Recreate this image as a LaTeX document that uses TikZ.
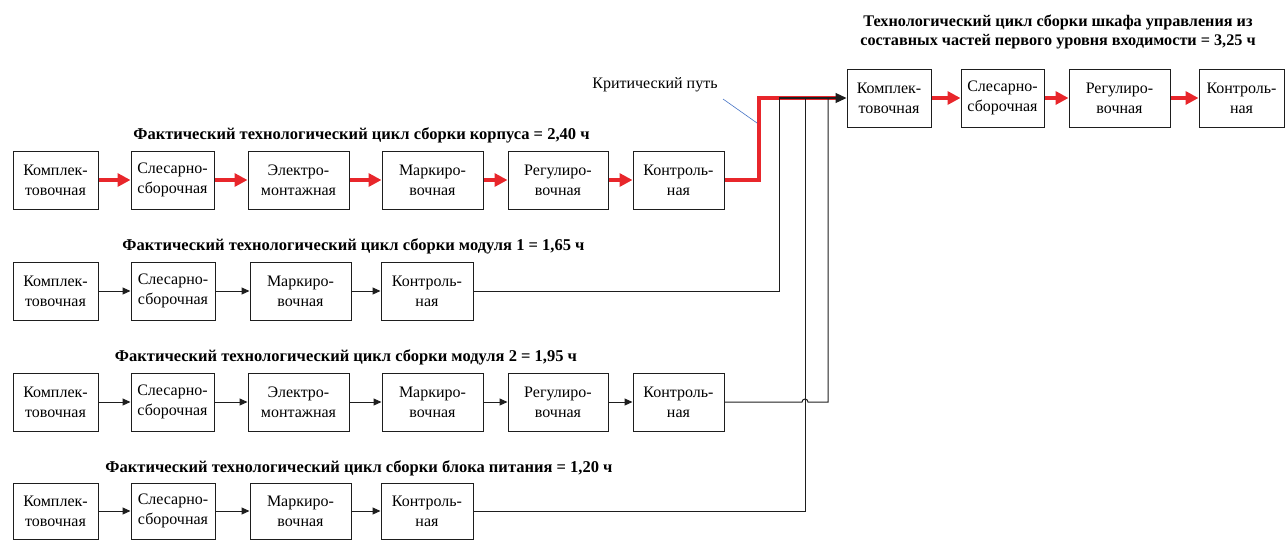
\documentclass[tikz,border=0pt]{standalone}
\usepackage{fontspec}
\setmainfont{Liberation Serif}
\newfontfamily\tnr{Liberation Serif}
\usetikzlibrary{arrows.meta}
\definecolor{cpred}{RGB}{232,38,43}
\definecolor{cpblue}{RGB}{68,114,196}
\definecolor{lnc}{RGB}{30,30,30}
\begin{document}
\begin{tikzpicture}[x=1pt,y=-1pt,
  box/.style={draw=lnc, line width=1pt, inner sep=0pt, minimum height=58pt, align=center, font=\tnr\fontsize{16}{20}\selectfont},
  ttl/.style={font=\tnr\bfseries\fontsize{16.5}{19}\selectfont, inner sep=0pt},
  redarr/.style={draw=cpred, line width=3.5pt, -{Triangle[length=13pt,width=13pt]}},
  blkarr/.style={draw=lnc, line width=1pt, -{Triangle[length=8pt,width=7pt]}},
  blkline/.style={draw=lnc, line width=1pt},
]
\useasboundingbox (0,0) rectangle (1285,539);
% ---- row 1
\node[ttl] (t1) at (361.5,135) {Фактический технологический цикл сборки корпуса = 2,40 ч};
\node[box, minimum width=85pt] (r1a) at (55.5,180) {Комплек-\\товочная};
\node[box, minimum width=83pt] (r1b) at (172.5,180) {Слесарно-\\сборочная};
\node[box, minimum width=101pt] (r1c) at (298.5,180) {Электро-\\монтажная};
\node[box, minimum width=101pt] (r1d) at (432.5,180) {Маркиро-\\вочная};
\node[box, minimum width=100pt] (r1e) at (558,180) {Регулиро-\\вочная};
\node[box, minimum width=91pt] (r1f) at (678.5,180) {Контроль-\\ная};
\draw[redarr] (r1a) -- (r1b);
\draw[redarr] (r1b) -- (r1c);
\draw[redarr] (r1c) -- (r1d);
\draw[redarr] (r1d) -- (r1e);
\draw[redarr] (r1e) -- (r1f);
% ---- row 2
\node[ttl] (t2) at (353.5,246) {Фактический технологический цикл сборки модуля 1 = 1,65 ч};
\node[box, minimum width=85pt] (r2a) at (55.5,291) {Комплек-\\товочная};
\node[box, minimum width=84pt] (r2b) at (173,291) {Слесарно-\\сборочная};
\node[box, minimum width=101pt] (r2c) at (300.5,291) {Маркиро-\\вочная};
\node[box, minimum width=92pt] (r2d) at (427,291) {Контроль-\\ная};
\draw[blkarr] (r2a) -- (r2b);
\draw[blkarr] (r2b) -- (r2c);
\draw[blkarr] (r2c) -- (r2d);
% ---- row 3
\node[ttl] (t3) at (346,357) {Фактический технологический цикл сборки модуля 2 = 1,95 ч};
\node[box, minimum width=85pt] (r3a) at (55.5,402) {Комплек-\\товочная};
\node[box, minimum width=83pt] (r3b) at (172.5,402) {Слесарно-\\сборочная};
\node[box, minimum width=101pt] (r3c) at (298.5,402) {Электро-\\монтажная};
\node[box, minimum width=101pt] (r3d) at (432.5,402) {Маркиро-\\вочная};
\node[box, minimum width=100pt] (r3e) at (558,402) {Регулиро-\\вочная};
\node[box, minimum width=91pt] (r3f) at (678.5,402) {Контроль-\\ная};
\draw[blkarr] (r3a) -- (r3b);
\draw[blkarr] (r3b) -- (r3c);
\draw[blkarr] (r3c) -- (r3d);
\draw[blkarr] (r3d) -- (r3e);
\draw[blkarr] (r3e) -- (r3f);
% ---- row 4
\node[ttl] (t4) at (359,468) {Фактический технологический цикл сборки блока питания = 1,20 ч};
\node[box, minimum width=85pt, minimum height=56pt] (r4a) at (55.5,511) {Комплек-\\товочная};
\node[box, minimum width=84pt, minimum height=56pt] (r4b) at (173,511) {Слесарно-\\сборочная};
\node[box, minimum width=101pt, minimum height=56pt] (r4c) at (300.5,511) {Маркиро-\\вочная};
\node[box, minimum width=92pt, minimum height=56pt] (r4d) at (427,511) {Контроль-\\ная};
\draw[blkarr] (r4a) -- (r4b);
\draw[blkarr] (r4b) -- (r4c);
\draw[blkarr] (r4c) -- (r4d);
% ---- final group
\node[ttl, align=center, font=\tnr\bfseries\fontsize{16.2}{19.5}\selectfont] (tt) at (1058,32) {Технологический цикл сборки шкафа управления из\\составных частей первого уровня входимости = 3,25 ч};
\node[box, minimum width=84pt] (fa) at (889,98) {Комплек-\\товочная};
\node[box, minimum width=83pt] (fb) at (1002.5,98) {Слесарно-\\сборочная};
\node[box, minimum width=101pt] (fc) at (1119.5,98) {Регулиро-\\вочная};
\node[box, minimum width=85pt] (fd) at (1241.5,98) {Контроль-\\ная};
\draw[redarr] (fa) -- (fb);
\draw[redarr] (fb) -- (fc);
\draw[redarr] (fc) -- (fd);
% ---- collector
\coordinate (c1) at (759,180);
\coordinate (c2) at (759,98);
\coordinate (c3) at (838,98);
\draw[draw=cpred, line width=3.5pt, line join=miter] (r1f.east) -- (c1) -- (c2) -- (c3);
\coordinate (v2a) at (779,291);
\coordinate (v2b) at (779,98);
\coordinate (v4a) at (805,511);
\coordinate (v4b) at (805,98);
\coordinate (h3) at (802,402);
\coordinate (v3a) at (828,402);
\coordinate (v3b) at (828,98);
\draw[blkline] (r2d.east) -- (v2a) -- (v2b);
\draw[blkline] (r4d.east) -- (v4a) -- (v4b);
\draw[blkline] (r3f.east) -- (h3) arc (180:360:3) -- (v3a) -- (v3b);
\draw[draw=lnc, line width=1.2pt, -{Triangle[length=11pt,width=10pt]}] (v2b) -- (fa.west);
% ---- critical path label
\node[font=\tnr\fontsize{16}{19}\selectfont, inner sep=0pt] (cp) at (655,85) {Критический путь};
\coordinate (cpa) at (723,99);
\coordinate (cpb) at (757,123);
\draw[cpblue, line width=0.6pt] (cpa) -- (cpb);
\end{tikzpicture}
\end{document}
